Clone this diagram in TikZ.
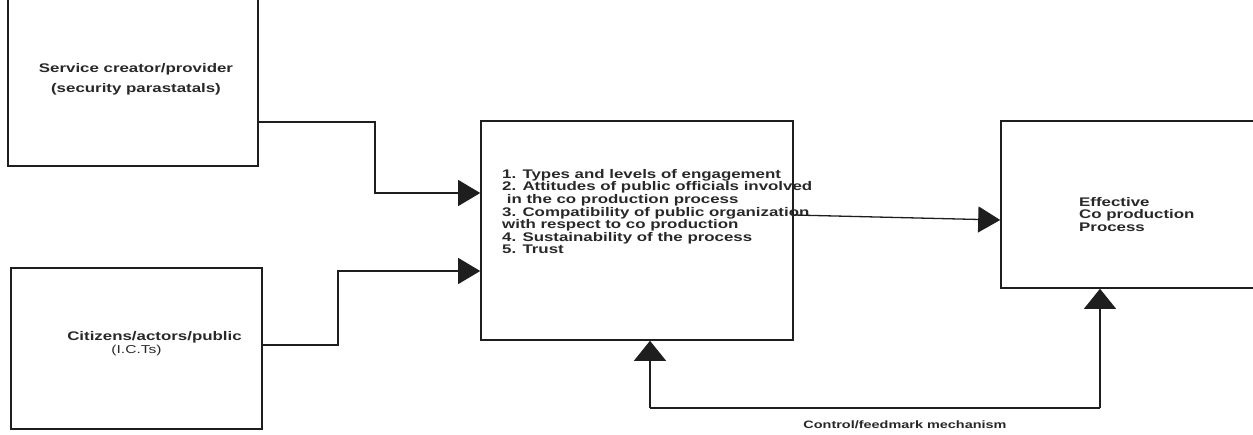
\documentclass[tikz,border=0pt]{standalone}
\usepackage{fontspec}
\usepackage{tikz}
\usetikzlibrary{arrows.meta, calc}
\newfontfamily\diagfont[FakeStretch=1.35]{Liberation Sans}
\definecolor{inkgray}{RGB}{30,30,30}
\definecolor{textgray}{RGB}{40,40,40}
\tikzset{
  block/.style={rectangle, draw=inkgray, line width=1.6pt, inner sep=0pt},
  blocktext/.style={text=textgray, inner sep=0pt, align=left, font=\diagfont\bfseries\fontsize{12.5}{12.6}\selectfont},
  link/.style={draw=inkgray, line width=1.3pt},
  linkh/.style={link, -{Triangle[length=22pt, width=26pt]}},
  linkv/.style={link, -{Triangle[length=20pt, width=32pt]}},
}

\begin{document}
\begin{tikzpicture}[x=1pt, y=-1pt]
\useasboundingbox (0,0) rectangle (1253,434);

% --- Left column: actors ---
\node[block, minimum width=250pt, minimum height=176pt] (provider) at (133,78) {};
\node[blocktext, align=center, anchor=center, font=\diagfont\bfseries\fontsize{12.5}{20}\selectfont] (providertext) at (136,79) {Service creator/provider\\ (security parastatals)};
\node[block, minimum width=251pt, minimum height=161pt] (citizens) at (136.5,348.5) {};
\node[blocktext, anchor=center] (citizenstext) at (154.5,337) {Citizens/actors/public};
\node[text=textgray, inner sep=0pt, font=\diagfont\fontsize{11.5}{12}\selectfont] (ictstext) at (136.5,351) {(I.C.Ts)};

% --- Centre: factors ---
\node[block, minimum width=312pt, minimum height=219pt] (factors) at (637,230.5) {};
\node[blocktext, anchor=north west] (factorstext) at (502,169) {1. Types and levels of engagement\\
2. Attitudes of public officials involved\\
\ in the co production process\\
3. Compatibility of public organization\\
with respect to co production\\
4. Sustainability of the process\\
5. Trust};

% --- Right: outcome ---
\node[block, minimum width=264pt, minimum height=167pt] (effect) at (1133,204.5) {};
\node[blocktext, anchor=west] (effecttext) at (1079,214.5) {Effective\\ Co production\\ Process};

% --- Connectors ---
\draw[linkh] (provider.east |- 0,122) -- (375,122) -- (375,193) -- (factors.west |- 0,193);
\draw[linkh] (citizens.east |- 0,345) -- (338,345) -- (338,271) -- (factors.west |- 0,271);
\draw[linkh] (factors.east |- 0,215) -- (effect.west |- 0,220);

% --- Feedback loop ---
\coordinate (fbleft) at (650,408);
\coordinate (fbright) at (1100,408);
\draw[link] (fbleft) -- (fbright);
\draw[linkv] (fbleft) -- (fbleft |- factors.south);
\draw[linkv] (fbright) -- (fbright |- effect.south);
\node[text=textgray, inner sep=0pt, font=\diagfont\bfseries\fontsize{10.7}{12}\selectfont] (fbtext) at (905,425) {Control/feedmark mechanism};

\end{tikzpicture}
\end{document}
